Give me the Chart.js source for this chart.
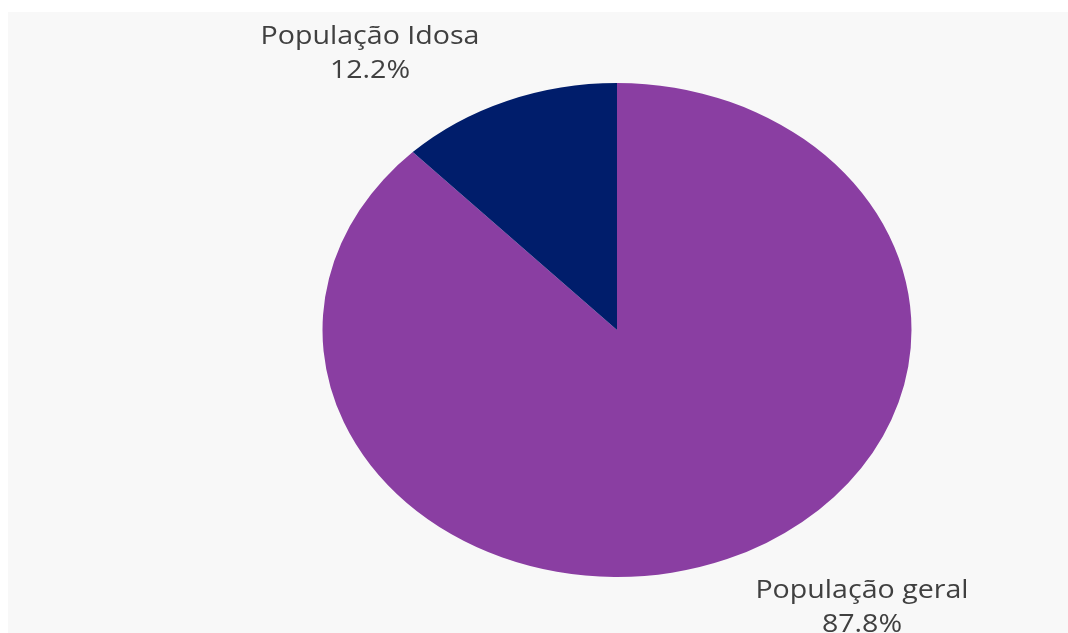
<!DOCTYPE html>
<html>
<head>
<meta charset="utf-8">
<script src="https://cdn.jsdelivr.net/npm/chart.js@4.4.1/dist/chart.umd.min.js"></script>
<style>
  html, body { margin: 0; padding: 0; background: #ffffff; }
  #bg { position: absolute; left: 8px; top: 12px; width: 1060px; height: 621px; background: #f8f8f8; }
  #wrap { position: absolute; left: 0; top: 0; width: 1068px; height: 633px; }
</style>
</head>
<body>
<div id="bg"></div>
<div id="wrap"><canvas id="c" width="1068" height="633"></canvas></div>
<script>
// ---- data ----
const categories = ['População geral', 'População Idosa'];
const values = [87.8, 12.2];
const sliceColors = ['#8a3ea2', '#001d6b'];

// ---- layout (not data) ----
const STRETCH_X = 589 / 494;          // reference pie is an ellipse
const TEXT_STRETCH = 1.1;             // reference label font is wide
const labelOffsets = [                // offsets of label centre from pie centre
  { dx: 245, dy: 278 },               // População geral
  { dx: -247, dy: -276 }              // População Idosa
];

const ellipsePlugin = {
  id: 'ellipse',
  beforeDatasetsDraw(chart) {
    const arc = chart.getDatasetMeta(0).data[0];
    const ctx = chart.ctx;
    ctx.save();
    ctx.translate(arc.x, arc.y);
    ctx.scale(STRETCH_X, 1);
    ctx.translate(-arc.x, -arc.y);
  },
  afterDatasetsDraw(chart) {
    chart.ctx.restore();
  }
};

const labelPlugin = {
  id: 'sliceLabels',
  afterDraw(chart) {
    const ctx = chart.ctx;
    const meta = chart.getDatasetMeta(0);
    const total = values.reduce((a, b) => a + b, 0);
    meta.data.forEach((arc, i) => {
      const off = labelOffsets[i];
      const x = arc.x + off.dx;
      const y = arc.y + off.dy;
      const pct = (values[i] / total * 100).toFixed(1) + '%';
      ctx.save();
      ctx.translate(x, y);
      ctx.scale(TEXT_STRETCH, 1);
      ctx.fillStyle = '#404040';
      ctx.font = '26px "Open Sans", sans-serif';
      ctx.textAlign = 'center';
      ctx.textBaseline = 'middle';
      ctx.fillText(categories[i], 0, -17);
      ctx.fillText(pct, 0, 17);
      ctx.restore();
    });
  }
};

new Chart(document.getElementById('c'), {
  type: 'pie',
  data: {
    labels: categories,
    datasets: [{
      data: values,
      backgroundColor: sliceColors,
      borderWidth: 0
    }]
  },
  options: {
    responsive: false,
    animation: false,
    layout: { padding: { top: 83, bottom: 56, left: 317, right: 151 } },
    plugins: {
      legend: { display: false },
      tooltip: { enabled: false },
      title: { display: false }
    }
  },
  plugins: [ellipsePlugin, labelPlugin]
});
</script>
</body>
</html>
